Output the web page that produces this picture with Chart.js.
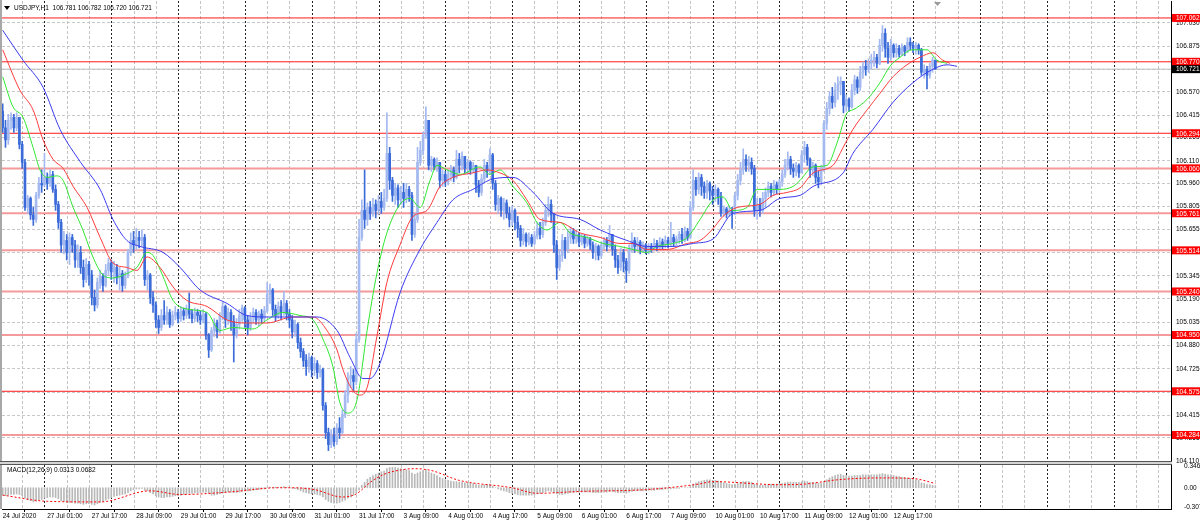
<!DOCTYPE html>
<html>
<head>
<meta charset="utf-8">
<script src="https://cdn.jsdelivr.net/npm/chart.js@4.4.1/dist/chart.umd.min.js"></script>
<style>
  html, body { margin: 0; padding: 0; background: #fff; }
  #wrap { position: relative; width: 1200px; height: 525px; overflow: hidden; background: #fff; }
  #main { position: absolute; left: 0; top: 0; }
  #macd { position: absolute; left: 0; top: 458px; }
  #sep { position: absolute; left: 0; top: 461px; width: 1172px; height: 2px; background: #d4d4d4;
         border-top: 1px solid #555; border-bottom: 1px solid #555; }
</style>
</head>
<body>
<div id="wrap">
  <canvas id="main" width="1200" height="464"></canvas>
  <canvas id="macd" width="1200" height="67"></canvas>
  <div id="sep"></div>
</div>
<script>
// USDJPY H1, 24 Jul 2020 09:00 .. 13 Aug 2020 08:00 (one entry per hourly bar)
const firstOpen = 106.44;
const closes = [
  106.33,106.25,106.38,106.40,106.33,106.40,106.22,106.10,105.80,105.86,
  105.75,105.72,105.88,105.96,105.95,106.00,105.96,106.02,105.92,105.82,
  105.70,105.55,105.58,105.50,105.60,105.55,105.45,105.50,105.40,105.32,
  105.42,105.35,105.20,105.15,105.30,105.34,105.28,105.38,105.43,105.37,
  105.40,105.33,105.36,105.28,105.35,105.50,105.58,105.55,105.60,105.58,
  105.60,105.32,105.35,105.20,105.15,105.05,105.00,105.08,105.05,105.10,
  105.02,105.08,105.10,105.06,105.11,105.08,105.12,105.09,105.06,105.10,
  105.08,105.05,105.09,104.95,104.85,104.98,105.03,104.97,105.08,105.14,
  105.05,105.10,105.04,104.95,105.02,105.08,105.13,105.05,105.00,105.07,
  105.10,105.05,105.09,105.06,105.11,105.22,105.25,105.12,105.08,105.14,
  105.10,105.16,105.09,105.05,104.97,105.02,104.90,104.84,104.78,104.74,
  104.80,104.72,104.76,104.70,104.72,104.48,104.30,104.22,104.28,104.24,
  104.33,104.30,104.42,104.55,104.66,104.68,104.64,104.92,105.60,105.78,
  105.72,105.80,105.76,105.82,105.78,105.84,105.80,105.86,106.16,105.98,
  105.88,105.93,105.85,105.90,105.86,105.92,105.88,105.62,105.72,106.10,
  106.18,106.28,106.38,106.08,106.12,106.07,106.10,105.98,106.02,105.97,
  106.02,106.05,106.00,106.12,106.08,106.14,106.06,106.10,106.05,106.08,
  105.95,105.90,105.99,106.08,106.04,106.15,105.96,105.82,105.86,105.78,
  105.83,105.76,105.72,105.78,105.70,105.66,105.58,105.62,105.57,105.60,
  105.56,105.61,105.66,105.62,105.70,105.78,105.82,105.75,105.55,105.40,
  105.48,105.58,105.52,105.60,105.64,105.59,105.62,105.57,105.60,105.56,
  105.59,105.55,105.50,105.54,105.48,105.55,105.58,105.54,105.62,105.52,
  105.45,105.40,105.50,105.44,105.38,105.52,105.58,105.54,105.57,105.52,
  105.55,105.51,105.54,105.52,105.56,105.53,105.57,105.55,105.58,105.56,
  105.60,105.57,105.59,105.62,105.58,105.64,105.60,105.80,105.98,105.92,
  106.00,105.94,105.90,105.96,105.91,105.88,105.92,105.87,105.76,105.79,
  105.76,105.78,105.76,105.88,105.98,106.05,106.12,106.08,106.10,106.06,
  105.78,105.82,105.78,105.86,105.90,105.94,105.90,105.95,105.92,105.97,
  106.02,106.08,106.12,106.06,106.04,106.08,106.03,106.15,106.20,106.12,
  106.05,106.08,106.00,105.97,106.05,106.36,106.46,106.54,106.50,106.58,
  106.62,106.64,106.48,106.52,106.47,106.58,106.65,106.60,106.70,106.74,
  106.72,106.76,106.78,106.80,106.76,106.88,106.96,106.86,106.80,106.88,
  106.83,106.86,106.82,106.87,106.84,106.90,106.88,106.86,106.88,106.85,
  106.70,106.72,106.68,106.74,106.781,106.721
];
const highs = [
  106.49,106.38,106.42,106.43,106.42,106.43,106.40,106.24,106.12,105.88,
  105.87,105.80,105.90,106.00,106.05,106.16,106.03,106.05,106.04,105.95,
  105.84,105.72,105.64,105.62,105.63,105.62,105.58,105.55,105.54,105.45,
  105.46,105.44,105.38,105.25,105.33,105.38,105.36,105.42,105.46,105.45,
  105.44,105.42,105.40,105.38,105.37,105.52,105.63,105.64,105.66,105.64,
  105.65,105.62,105.38,105.36,105.24,105.17,105.08,105.12,105.18,105.14,
  105.12,105.11,105.14,105.12,105.14,105.13,105.15,105.23,105.12,105.13,
  105.12,105.11,105.12,105.10,104.96,105.00,105.06,105.05,105.10,105.17,
  105.15,105.13,105.12,105.08,105.06,105.12,105.15,105.14,105.08,105.10,
  105.13,105.12,105.11,105.12,105.14,105.30,105.29,105.26,105.15,105.17,
  105.18,105.24,105.18,105.12,105.08,105.05,105.03,104.93,104.86,104.82,
  104.83,104.81,104.80,104.78,104.75,104.73,104.50,104.33,104.32,104.33,
  104.36,104.40,104.45,104.58,104.70,104.74,104.72,104.96,105.72,105.85,
  106.05,105.83,105.84,105.86,105.85,105.88,105.90,105.92,106.43,106.20,
  106.00,105.96,105.95,105.94,105.96,105.96,105.94,105.90,105.76,106.20,
  106.24,106.30,106.47,106.38,106.14,106.13,106.13,106.10,106.05,106.04,
  106.05,106.08,106.07,106.18,106.16,106.17,106.14,106.12,106.11,106.10,
  106.08,105.98,106.02,106.12,106.10,106.19,106.16,105.98,105.88,105.87,
  105.86,105.85,105.80,105.81,105.79,105.74,105.68,105.66,105.63,105.63,
  105.62,105.64,105.70,105.70,105.73,105.82,105.87,105.85,105.76,105.58,
  105.52,105.62,105.60,105.65,105.67,105.66,105.65,105.63,105.62,105.62,
  105.61,105.60,105.57,105.56,105.55,105.57,105.60,105.60,105.68,105.62,
  105.55,105.48,105.53,105.52,105.46,105.55,105.63,105.60,105.60,105.58,
  105.57,105.56,105.56,105.56,105.59,105.58,105.60,105.59,105.61,105.60,
  105.70,105.62,105.61,105.64,105.66,105.67,105.66,105.84,106.05,106.00,
  106.03,106.02,105.97,105.98,105.97,105.94,105.95,105.93,105.90,105.81,
  105.80,105.81,105.80,105.90,106.02,106.10,106.19,106.15,106.14,106.13,
  106.08,105.86,105.86,105.90,105.93,105.97,105.96,105.98,105.97,105.99,
  106.05,106.12,106.17,106.14,106.09,106.10,106.09,106.18,106.24,106.22,
  106.13,106.10,106.09,106.04,106.08,106.38,106.50,106.57,106.60,106.63,
  106.67,106.67,106.64,106.55,106.53,106.62,106.68,106.67,106.74,106.77,
  106.78,106.79,106.82,106.84,106.82,106.92,107.01,106.99,106.90,106.92,
  106.89,106.89,106.88,106.89,106.88,106.93,106.93,106.90,106.90,106.89,
  106.86,106.75,106.74,106.76,106.80,106.782
];
const lows = [
  106.30,106.20,106.22,106.32,106.30,106.31,106.19,106.06,105.78,105.76,
  105.72,105.68,105.70,105.86,105.90,105.94,105.92,105.94,105.90,105.78,
  105.66,105.50,105.49,105.45,105.42,105.50,105.40,105.40,105.36,105.27,
  105.30,105.28,105.15,105.11,105.13,105.26,105.24,105.27,105.35,105.32,
  105.30,105.29,105.25,105.24,105.26,105.33,105.48,105.50,105.52,105.53,
  105.54,105.28,105.25,105.16,105.10,105.00,104.96,104.98,105.02,105.02,
  105.00,105.01,105.05,105.03,105.04,105.05,105.06,105.06,105.03,105.04,
  105.04,105.02,105.03,104.92,104.80,104.84,104.94,104.93,104.96,105.05,
  105.00,105.02,104.98,104.77,104.93,104.99,105.04,105.00,104.95,104.98,
  105.03,105.02,105.01,105.03,105.04,105.10,105.16,105.08,105.04,105.06,
  105.05,105.08,105.05,105.00,104.93,104.94,104.86,104.80,104.74,104.68,
  104.70,104.67,104.68,104.66,104.67,104.45,104.26,104.18,104.20,104.21,
  104.22,104.26,104.29,104.40,104.50,104.60,104.58,104.62,104.90,105.58,
  105.66,105.68,105.72,105.74,105.73,105.75,105.76,105.78,105.84,105.92,
  105.84,105.82,105.80,105.82,105.80,105.83,105.84,105.58,105.60,105.70,
  106.08,106.15,106.26,106.05,106.04,106.05,106.04,105.93,105.94,105.94,
  105.95,105.98,105.97,105.99,106.03,106.05,106.03,106.02,106.02,106.03,
  105.90,105.87,105.88,105.97,106.00,106.02,105.92,105.78,105.76,105.74,
  105.72,105.73,105.67,105.68,105.65,105.60,105.54,105.55,105.54,105.55,
  105.54,105.55,105.59,105.59,105.60,105.68,105.74,105.70,105.50,105.32,
  105.38,105.44,105.46,105.50,105.56,105.56,105.56,105.54,105.55,105.53,
  105.54,105.52,105.46,105.45,105.45,105.46,105.52,105.51,105.53,105.48,
  105.40,105.36,105.38,105.37,105.30,105.36,105.50,105.50,105.51,105.49,
  105.50,105.49,105.49,105.50,105.51,105.51,105.52,105.52,105.53,105.53,
  105.54,105.54,105.55,105.56,105.56,105.57,105.58,105.59,105.78,105.88,
  105.89,105.88,105.86,105.86,105.85,105.82,105.84,105.82,105.74,105.74,
  105.73,105.74,105.66,105.75,105.85,105.95,106.02,106.04,106.04,106.02,
  105.74,105.72,105.74,105.76,105.80,105.87,105.87,105.88,105.89,105.90,
  105.94,106.00,106.05,106.02,106.00,106.01,106.00,106.03,106.10,106.08,
  106.00,106.01,105.96,105.93,105.95,106.04,106.32,106.42,106.46,106.47,
  106.52,106.55,106.43,106.44,106.44,106.46,106.55,106.56,106.58,106.66,
  106.68,106.70,106.72,106.74,106.73,106.75,106.84,106.80,106.76,106.78,
  106.80,106.80,106.80,106.81,106.81,106.83,106.85,106.83,106.82,106.82,
  106.68,106.66,106.59,106.66,106.70,106.720
];

// moving averages: [bar, price]
const maFast = [[0,106.67],[3.7,106.47],[7.3,106.40],[10.9,106.20],[13.4,106.05],[15.9,106.00],[19.5,106.01],[21.7,105.98],[25.3,105.80],[28.8,105.65],[32.4,105.47],[36,105.35],[39.6,105.33],[44.6,105.36],[48.2,105.40],[51.8,105.50],[54,105.48],[57.6,105.34],[61.2,105.18],[67.3,105.12],[73.4,105.10],[78,104.98],[82.7,105.00],[89.9,104.99],[94.9,105.05],[100.7,105.10],[106.8,105.08],[111.5,105.05],[115.1,104.92],[118.6,104.74],[121.1,104.50],[124,104.43],[127.3,104.52],[130.9,104.98],[134.4,105.36],[138,105.63],[142.7,105.82],[146.3,105.86],[149.9,105.80],[153.5,105.98],[156,106.08],[159.6,106.05],[164.3,106.02],[171.4,106.07],[175,106.02],[178.6,106.05],[183.3,105.94],[188.3,105.83],[191.9,105.70],[195.5,105.65],[200.2,105.70],[203.8,105.63],[209.9,105.60],[215.6,105.56],[221.7,105.54],[226.4,105.52],[231.4,105.50],[235,105.54],[240.8,105.56],[245.9,105.60],[250.5,105.72],[255.2,105.85],[258.7,105.87],[262.3,105.78],[267.4,105.80],[271,105.92],[279.2,105.92],[283.9,105.94],[286.4,105.98],[291.1,106.07],[296.1,106.08],[299.7,106.23],[303.3,106.43],[305.4,106.45],[310.5,106.52],[315.1,106.63],[318.7,106.74],[322.3,106.80],[326.9,106.85],[332,106.85],[335.6,106.78],[339.2,106.76]];
const maMid = [[0,106.85],[6.2,106.58],[10.9,106.45],[14.5,106.25],[18.1,106.12],[21.7,106.06],[25.3,105.94],[30.3,105.80],[35,105.60],[39.6,105.43],[44.6,105.40],[48.2,105.38],[51.8,105.47],[56.5,105.40],[61.2,105.27],[66.2,105.18],[73.4,105.14],[80.6,105.05],[87.7,105.03],[94.9,105.03],[104.3,105.07],[111.5,105.07],[116.5,104.98],[120.1,104.85],[122.2,104.72],[125.8,104.58],[128.3,104.55],[130.9,104.60],[134.4,104.94],[138,105.30],[142.7,105.55],[147.4,105.74],[152.4,105.78],[157.1,105.94],[161.7,106.00],[168.9,106.03],[173.9,106.05],[178.6,106.03],[183.3,105.98],[188.3,105.85],[193,105.72],[200.2,105.70],[207.4,105.63],[214.6,105.60],[221.7,105.56],[226.4,105.56],[231.4,105.52],[238.6,105.52],[245.9,105.56],[250.5,105.58],[255.2,105.66],[258.7,105.74],[263.8,105.80],[272,105.82],[276.7,105.88],[281.8,105.90],[286.4,105.93],[291.1,106.03],[298.2,106.08],[301.9,106.20],[305.4,106.32],[310.5,106.45],[315.1,106.56],[319.8,106.67],[324.8,106.75],[329.5,106.80],[334.1,106.83],[337.7,106.78],[340.3,106.76]];
const maSlow = [[0,106.98],[7.3,106.78],[14.5,106.60],[20.6,106.32],[28,106.10],[35,105.92],[39.6,105.72],[44.6,105.58],[49.3,105.54],[57.6,105.50],[63.7,105.40],[70.9,105.25],[80.6,105.16],[87.7,105.08],[94.9,105.07],[103.2,105.07],[112.9,105.07],[120.1,104.98],[124.8,104.80],[129.4,104.66],[131.9,104.66],[135.5,104.76],[142.7,105.23],[149.9,105.52],[156,105.70],[161.7,105.85],[168.9,105.92],[176.1,105.99],[183.3,106.00],[190.5,105.90],[197.7,105.76],[207.4,105.72],[214.6,105.65],[224.2,105.58],[231.4,105.54],[240.8,105.54],[248.1,105.56],[255.2,105.59],[262.3,105.76],[272,105.78],[279.2,105.86],[286.4,105.88],[291.1,105.94],[301.9,106.03],[305.4,106.16],[312.6,106.32],[319.8,106.50],[326.9,106.63],[334.1,106.72],[339.2,106.75],[342.8,106.74]];

// MACD(12,26,9): main line per bar (drawn as histogram) and signal [bar, value]
const macdMain = [
  -0.12,-0.13,-0.12,-0.11,-0.11,-0.10,-0.11,-0.13,-0.17,-0.19,-0.21,-0.23,-0.22,-0.20,-0.19,
  -0.17,-0.16,-0.15,-0.15,-0.16,-0.18,-0.21,-0.22,-0.24,-0.24,-0.24,-0.25,-0.25,-0.26,-0.27,-0.26,
  -0.26,-0.27,-0.28,-0.26,-0.24,-0.22,-0.20,-0.18,-0.16,-0.14,-0.13,-0.12,-0.11,-0.10,-0.08,-0.05,-0.03,-0.02,-0.02,-0.01,
  -0.04,-0.05,-0.08,-0.10,-0.13,-0.15,-0.16,-0.16,-0.15,-0.15,-0.14,-0.13,-0.13,-0.12,-0.11,-0.10,-0.09,-0.09,-0.08,-0.08,-0.08,-0.07,-0.07,-0.09,-0.12,
  -0.12,-0.11,-0.10,-0.09,-0.08,-0.07,-0.07,-0.08,-0.08,-0.07,-0.06,-0.05,-0.05,-0.05,-0.04,-0.03,-0.03,-0.02,-0.02,0.00,0.01,0.01,0.01,0.01,0.01,0.02,0.01,0.00,-0.01,-0.02,
  -0.03,-0.05,-0.07,-0.08,-0.09,-0.10,-0.10,-0.11,-0.12,-0.15,-0.19,-0.22,-0.24,-0.25,-0.25,-0.24,-0.22,-0.20,-0.17,-0.15,-0.12,-0.08,
  -0.04,0.04,0.09,0.14,0.17,0.20,0.22,0.24,0.26,0.27,
  0.31,0.33,0.33,0.33,0.32,0.31,0.30,0.29,0.28,0.24,0.22,0.24,0.26,
  0.28,0.30,0.26,0.24,0.22,0.20,0.17,0.15,0.13,0.12,0.11,0.10,0.10,0.09,0.09,
  0.08,0.08,0.07,0.07,0.05,0.04,0.04,0.05,0.05,0.06,0.03,0.00,-0.02,-0.04,-0.05,
  -0.06,-0.08,-0.09,-0.10,-0.11,-0.12,-0.12,-0.12,-0.12,-0.12,-0.11,-0.10,-0.09,-0.08,-0.06,-0.05,-0.06,-0.08,-0.10,-0.11,
  -0.11,-0.10,-0.09,-0.08,-0.08,-0.07,-0.07,-0.07,-0.07,-0.07,
  -0.07,-0.08,-0.08,-0.08,-0.08,-0.07,-0.07,-0.06,-0.06,-0.07,
  -0.08,-0.08,-0.08,-0.09,-0.07,-0.06,-0.05,-0.05,-0.05,-0.05,
  -0.05,-0.04,-0.04,-0.04,-0.03,-0.03,-0.03,-0.02,-0.02,-0.02,
  -0.01,-0.01,-0.01,0.00,0.00,0.00,
  0.02,0.06,0.08,0.10,0.11,0.12,0.13,0.13,0.12,0.12,
  0.11,0.10,0.08,0.07,0.06,0.05,0.06,0.07,0.09,0.10,
  0.10,0.10,0.09,0.06,0.05,0.04,0.04,0.05,0.05,0.06,
  0.06,0.06,0.07,0.07,0.08,0.09,0.09,0.09,0.09,0.09,
  0.10,0.11,0.10,0.09,0.09,0.08,0.07,0.07,
  0.10,0.13,0.16,0.18,0.20,0.21,0.22,0.20,0.20,0.19,
  0.19,0.20,0.20,0.20,0.21,0.21,0.21,0.21,0.21,0.21,
  0.22,0.23,0.22,0.21,0.21,0.20,0.19,0.18,0.17,0.17,
  0.16,0.15,0.14,0.13,0.12,0.08,0.07,0.05,0.05,0.04,0.03
];
const macdSignal = [[0,-0.12],[16,-0.22],[35,-0.23],[53,-0.05],[64,-0.11],[81,-0.07],[99,0.00],[104,0.00],[112,-0.03],[122,-0.15],[127,-0.10],[131,0.05],[133,0.12],[137,0.22],[143,0.29],[148,0.31],[154,0.28],[164,0.12],[183,0.00],[192,-0.09],[207,-0.06],[231,-0.03],[250,0.06],[255,0.10],[279,0.05],[288,0.06],[300,0.13],[315,0.16],[327,0.15],[335,0.07]];

const levels = [107.062, 106.770, 106.294, 106.060, 105.761, 105.514, 105.240, 104.950, 104.575, 104.284];
const brightLevels = [107.062, 106.770, 106.294, 104.575];
const lastPrice = 106.721;
const priceTicks = [107.030,106.875,106.720,106.570,106.415,106.265,106.110,105.960,105.805,105.655,105.500,105.345,105.190,105.035,104.880,104.725,104.570,104.415,104.265,104.110];
const macdTicks = [0.3462, 0, -0.3077];
const timeLabels = ['24 Jul 2020','27 Jul 01:00','27 Jul 17:00','28 Jul 09:00','29 Jul 01:00','29 Jul 17:00','30 Jul 09:00','31 Jul 01:00','31 Jul 17:00','3 Aug 09:00','4 Aug 01:00','4 Aug 17:00','5 Aug 09:00','6 Aug 01:00','6 Aug 17:00','7 Aug 09:00','10 Aug 01:00','10 Aug 17:00','11 Aug 09:00','12 Aug 01:00','12 Aug 17:00'];
const titleText = 'USDJPY,H1  106.781 106.782 106.720 106.721';
const macdTitle = 'MACD(12,26,9) 0.0313 0.0682';

const FONT = '"Liberation Sans", Arial, sans-serif';
Chart.defaults.font.family = FONT;
Chart.defaults.font.size = 6.5;
Chart.defaults.color = '#000';

const xMin = -0.25, xMax = 419.65;
const yMin = 104.104, yMax = 107.175;
const bullCol = '#a3b9ef', bearCol = '#3a6bd9';

const opens = closes.map((c, i) => i === 0 ? firstOpen : closes[i - 1]);
const isUp = closes.map((c, i) => c >= opens[i]);
const candleColor = ctx => isUp[ctx.dataIndex] ? bullCol : bearCol;

// vertical grid every 8 bars, day separators every 24
const gridPlugin = {
  id: 'mtGrid',
  beforeDatasetsDraw(chart) {
    const {ctx, chartArea: a, scales: {x}} = chart;
    ctx.save();
    ctx.beginPath();
    ctx.rect(a.left, a.top, a.right - a.left, a.bottom - a.top);
    ctx.clip();
    ctx.lineWidth = 1;
    for (let b = 7; b <= x.max; b += 8) {
      const sep = (b - 15) % 24 === 0;
      const px = Math.round(x.getPixelForValue(b)) + 0.5;
      ctx.strokeStyle = sep ? '#222' : '#c4c4c4';
      ctx.setLineDash(sep ? [2, 2] : [3, 2]);
      ctx.beginPath();
      ctx.moveTo(px, a.top);
      ctx.lineTo(px, a.bottom);
      ctx.stroke();
    }
    ctx.restore();
  }
};

const mainDecor = {
  id: 'mainDecor',
  afterDraw(chart) {
    const {ctx, chartArea: a, scales: {y}} = chart;
    ctx.save();
    ctx.fillStyle = '#a8a8a8';
    ctx.fillRect(0, 0, 2, a.bottom);
    ctx.font = '6.5px ' + FONT;
    ctx.textBaseline = 'middle';
    ctx.textAlign = 'left';
    levels.forEach(v => {
      const py = y.getPixelForValue(v);
      ctx.fillStyle = '#ff0000';
      ctx.fillRect(a.right + 1, py - 4, 28, 8);
      ctx.fillStyle = '#fff';
      ctx.fillText(v.toFixed(3), a.right + 5, py + 0.5);
    });
    const lp = y.getPixelForValue(lastPrice);
    ctx.fillStyle = '#000';
    ctx.fillRect(a.right + 1, lp - 4, 28, 8);
    ctx.fillStyle = '#fff';
    ctx.fillText(lastPrice.toFixed(3), a.right + 5, lp + 0.5);
    // title
    ctx.fillStyle = '#000';
    ctx.beginPath();
    ctx.moveTo(4, 6); ctx.lineTo(10, 6); ctx.lineTo(7, 10); ctx.closePath();
    ctx.fill();
    ctx.fillText(titleText, 14, 8.5);
    // chart shift marker
    ctx.fillStyle = '#9a9a9a';
    ctx.beginPath();
    ctx.moveTo(934, 2); ctx.lineTo(941, 2); ctx.lineTo(937.5, 6); ctx.closePath();
    ctx.fill();
    ctx.restore();
  }
};

const macdDecor = {
  id: 'macdDecor',
  afterDraw(chart) {
    const {ctx, chartArea: a} = chart;
    ctx.save();
    ctx.fillStyle = '#a8a8a8';
    ctx.fillRect(0, a.top, 2, a.bottom - a.top);
    ctx.fillStyle = '#000';
    ctx.font = '6.5px ' + FONT;
    ctx.textBaseline = 'middle';
    ctx.fillText(macdTitle, 7, a.top + 5);
    ctx.restore();
  }
};

function levelLine(v) {
  const bright = brightLevels.includes(v);
  return {
    type: 'line', order: 20,
    data: [{x: xMin, y: v}, {x: xMax, y: v}],
    borderColor: bright ? '#ff1a1a' : '#f49a9a',
    borderWidth: bright ? 1 : 2,
    pointRadius: 0
  };
}
function maLine(points, color) {
  return {
    type: 'line', order: 1,
    data: points.map(p => ({x: p[0], y: p[1]})),
    borderColor: color, borderWidth: 1, pointRadius: 0,
    cubicInterpolationMode: 'monotone'
  };
}

new Chart(document.getElementById('main'), {
  type: 'bar',
  data: {
    datasets: [
      ...levels.map(levelLine),
      { type: 'line', order: 19, data: [{x: xMin, y: lastPrice}, {x: xMax, y: lastPrice}],
        borderColor: '#c0c0c0', borderWidth: 1, pointRadius: 0 },
      { type: 'bar', order: 6, grouped: false, barThickness: 1,
        data: closes.map((c, i) => ({x: i, y: [Math.min(lows[i], opens[i], c), Math.max(highs[i], opens[i], c)]})),
        backgroundColor: candleColor, borderWidth: 0 },
      { type: 'bar', order: 5, grouped: false, barThickness: 2,
        data: closes.map((c, i) => ({x: i, y: [opens[i], c]})),
        backgroundColor: candleColor, borderWidth: 0 },
      maLine(maSlow, '#3b3bf0'),
      maLine(maMid, '#ff3b3b'),
      maLine(maFast, '#2ee62e')
    ]
  },
  options: {
    responsive: false, animation: false, events: [],
    layout: { padding: { left: 2, top: 1, right: 0, bottom: 2 } },
    plugins: { legend: { display: false }, tooltip: { enabled: false } },
    scales: {
      x: { type: 'linear', display: false, min: xMin, max: xMax, offset: false },
      y: {
        type: 'linear', position: 'right', min: yMin, max: yMax, beginAtZero: false,
        afterBuildTicks: s => { s.ticks = priceTicks.map(v => ({value: v})); },
        afterFit: s => { s.width = 29; s.paddingTop = 0; s.paddingBottom = 0; },
        ticks: { color: '#000', padding: 5, callback: v => v.toFixed(3) },
        grid: { color: '#c8c8c8', drawTicks: false },
        border: { display: true, color: '#000', width: 1, dash: [3, 2] }
      }
    }
  },
  plugins: [gridPlugin, mainDecor]
});

new Chart(document.getElementById('macd'), {
  type: 'bar',
  data: {
    datasets: [
      { type: 'bar', order: 2, grouped: false, barThickness: 1,
        data: macdMain.map((v, i) => ({x: i, y: v})),
        backgroundColor: '#b8b8b8', borderWidth: 0 },
      { type: 'line', order: 1,
        data: macdSignal.map(p => ({x: p[0], y: p[1]})),
        borderColor: '#ff0000', borderWidth: 1, borderDash: [2, 2], pointRadius: 0,
        cubicInterpolationMode: 'monotone' }
    ]
  },
  options: {
    responsive: false, animation: false, events: [],
    layout: { padding: { left: 2, top: 7, right: 0, bottom: 0 } },
    plugins: { legend: { display: false }, tooltip: { enabled: false } },
    scales: {
      x: {
        type: 'linear', min: xMin, max: xMax, offset: false,
        afterBuildTicks: s => { s.ticks = timeLabels.map((t, k) => ({value: k * 16})); },
        afterFit: s => { s.height = 16; s.paddingLeft = 0; s.paddingRight = 0; },
        ticks: { color: '#000', align: 'start', padding: 0, autoSkip: false, maxRotation: 0,
                 callback: v => timeLabels[Math.round(v / 16)] },
        grid: { drawOnChartArea: false, drawTicks: true, tickLength: 3, color: '#000' },
        border: { display: true, color: '#000' }
      },
      y: {
        type: 'linear', position: 'right', min: -0.345, max: 0.37,
        afterBuildTicks: s => { s.ticks = macdTicks.map(v => ({value: v})); },
        afterFit: s => { s.width = 29; s.paddingTop = 0; s.paddingBottom = 0; },
        ticks: { color: '#000', padding: 5, callback: v => v === 0 ? '0.00' : v.toFixed(4) },
        grid: { display: false },
        border: { display: true, color: '#000' }
      }
    }
  },
  plugins: [gridPlugin, macdDecor]
});
</script>
</body>
</html>
